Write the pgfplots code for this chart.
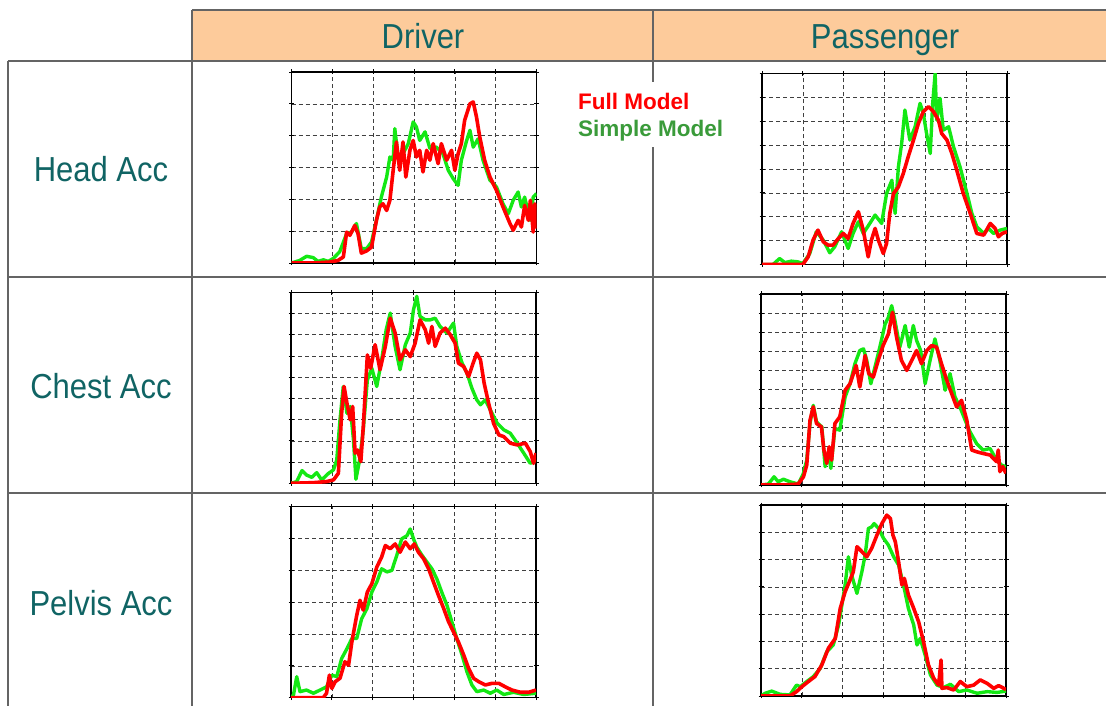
\documentclass[border=0pt]{standalone}
\usepackage{pgfplots}
\pgfplotsset{compat=1.18}
\usepackage{fontspec}
\setmainfont{Liberation Sans}
\definecolor{tealc}{RGB}{16,100,100}
\definecolor{headfill}{RGB}{253,203,155}
\definecolor{linec}{RGB}{100,100,100}
\definecolor{fullred}{RGB}{255,0,0}
\definecolor{simplegreen}{RGB}{20,232,20}
\definecolor{legendgreen}{RGB}{58,155,58}
\pgfplotsset{
  panel/.style={
    scale only axis, width=245pt, height=191pt,
    xmin=0, xmax=6, ymin=0,
    xtick={0,...,6},
    xticklabels={}, yticklabels={},
    grid=major,
    major grid style={black!75, line width=0.6pt, dash pattern=on 4pt off 3pt},
    axis line style={black, line width=1.3pt},
    tick align=center, major tick length=5pt,
    tick style={black, line width=0.8pt},
    clip=true,
  },
  sim/.style={simplegreen, line width=3.4pt, line join=round, no marks},
  full/.style={fullred, line width=3.6pt, line join=round, no marks},
}
\begin{document}
\begin{tikzpicture}[x=1pt,y=1pt]
\useasboundingbox (0,0) rectangle (1106,706);
% header
\fill[headfill] (192,696) rectangle (1106,645);
\draw[linec, line width=2pt] (192,696) -- (1106,696);
\draw[linec, line width=2pt] (8,645) -- (1106,645);
\draw[linec, line width=2pt] (8,429) -- (1106,429);
\draw[linec, line width=2pt] (8,213) -- (1106,213);
\draw[linec, line width=2pt] (8,645) -- (8,0);
\draw[linec, line width=2pt] (192,696) -- (192,0);
\draw[linec, line width=2pt] (653,696) -- (653,0);
\tikzset{lab/.style={text=tealc, font=\fontsize{31}{36}\selectfont, anchor=base, yscale=1.12, inner sep=0pt}}
\node[lab] at (423,657) {Driver};
\node[lab] at (885,657) {Passenger};
\node[lab] at (101,524) {Head Acc};
\node[lab] at (101,307) {Chest Acc};
\node[lab] at (101,90) {Pelvis Acc};

% P1 Driver Head
\begin{axis}[panel, at={(291.5pt,443pt)}, anchor=south west, ymax=6, ytick={0,...,6}]
\addplot[sim] coordinates {(0,0) (0.2,0.08) (0.37,0.21) (0.53,0.17) (0.65,0.05) (0.78,0.1) (0.9,0.05) (1.02,0.14) (1.18,0.35) (1.35,0.92) (1.47,0.97) (1.59,1.24) (1.71,0.45) (1.84,0.45) (1.96,0.66) (2.08,1.34) (2.2,2.07) (2.33,2.7) (2.41,3.33) (2.49,3.23) (2.53,4.22) (2.61,3.33) (2.73,3.43) (2.86,3.75) (2.98,4.43) (3.06,4.27) (3.14,3.85) (3.27,4.12) (3.39,3.6) (3.55,3.64) (3.71,3.43) (3.84,2.91) (3.96,2.65) (4.08,2.44) (4.16,3.23) (4.29,3.85) (4.37,4.17) (4.45,3.64) (4.57,3.9) (4.69,3.23) (4.86,2.6) (5.02,2.39) (5.18,1.86) (5.31,1.55) (5.43,1.97) (5.55,2.23) (5.63,1.76) (5.71,2.07) (5.84,1.34) (5.92,2.07) (6,2.18)};
\addplot[full] coordinates {(0,0) (0.53,0) (0.94,0.03) (1.14,0.08) (1.27,0.19) (1.35,0.97) (1.43,0.87) (1.55,1.18) (1.63,0.92) (1.71,0.31) (1.84,0.38) (1.96,0.5) (2.08,1.34) (2.16,1.76) (2.24,1.86) (2.33,1.65) (2.41,1.97) (2.49,2.91) (2.57,3.8) (2.65,2.91) (2.73,3.8) (2.8,2.7) (2.9,3.54) (2.98,3.85) (3.06,3.33) (3.14,3.54) (3.22,2.86) (3.31,3.54) (3.39,3.23) (3.47,3.75) (3.59,3.12) (3.67,3.75) (3.8,3.23) (3.92,3.54) (4,2.91) (4.08,3.43) (4.16,3.75) (4.24,4.48) (4.37,5.0) (4.45,5.06) (4.53,4.59) (4.61,3.96) (4.73,3.23) (4.86,2.7) (5.02,2.28) (5.18,1.76) (5.35,1.24) (5.43,1.03) (5.55,1.34) (5.63,1.13) (5.71,1.81) (5.8,1.34) (5.85,1.97) (5.92,0.97) (5.96,1.86) (6,1.08)};
\end{axis}

% P2 Passenger Head
\begin{axis}[panel, at={(762pt,441.5pt)}, anchor=south west, ymax=8, ytick={0,...,8}]
\addplot[sim] coordinates {(0,0) (0.27,0) (0.43,0.25) (0.56,0.08) (0.72,0.14) (0.88,0.11) (1.0,0.04) (1.17,0.46) (1.33,1.37) (1.5,1.02) (1.66,0.49) (1.78,0.74) (1.95,1.37) (2.11,0.67) (2.23,1.3) (2.36,1.79) (2.48,1.3) (2.64,1.72) (2.77,2.07) (2.93,1.72) (3.05,2.97) (3.18,3.53) (3.26,2.14) (3.34,4.09) (3.42,5.07) (3.5,6.47) (3.62,5.21) (3.75,5.77) (3.87,6.75) (3.95,6.33) (4.03,5.49) (4.12,4.65) (4.18,6.75) (4.24,8.0) (4.28,6.05) (4.36,6.96) (4.44,5.63) (4.57,5.77) (4.69,4.93) (4.85,4.09) (5.02,2.97) (5.14,2.14) (5.26,1.58) (5.43,1.3) (5.55,1.51) (5.67,1.3) (5.83,1.44) (6,1.51)};
\addplot[full] coordinates {(0,0) (1.0,0) (1.13,0.32) (1.25,1.02) (1.37,1.44) (1.5,0.95) (1.62,0.81) (1.74,0.81) (1.87,1.09) (1.99,1.3) (2.11,1.09) (2.23,1.72) (2.36,2.21) (2.48,1.44) (2.6,0.32) (2.68,1.02) (2.77,1.51) (2.85,1.02) (2.97,0.46) (3.05,0.88) (3.13,2.14) (3.22,2.97) (3.34,3.25) (3.46,3.81) (3.58,4.51) (3.71,5.21) (3.83,5.91) (3.95,6.4) (4.08,6.61) (4.2,6.4) (4.32,6.05) (4.4,5.49) (4.53,5.21) (4.65,4.65) (4.77,3.95) (4.93,2.97) (5.1,2.14) (5.26,1.3) (5.43,1.23) (5.59,1.72) (5.71,1.51) (5.79,1.16) (5.88,1.3) (6,1.37)};
\end{axis}

% P3 Driver Chest
\begin{axis}[panel, at={(291pt,222.7pt)}, anchor=south west, ymax=9, ytick={0,...,9}]
\addplot[sim] coordinates {(0,0) (0.14,0.08) (0.27,0.6) (0.38,0.39) (0.51,0.28) (0.63,0.5) (0.75,0.16) (0.92,0.47) (1.04,0.63) (1.12,1.1) (1.2,2.99) (1.28,4.56) (1.37,3.3) (1.45,3.62) (1.53,2.04) (1.59,0.19) (1.68,1.1) (1.77,2.52) (1.87,4.87) (1.98,5.42) (2.1,4.56) (2.22,5.82) (2.33,7.23) (2.43,8.02) (2.55,6.45) (2.67,5.35) (2.8,6.53) (2.92,7.08) (3.0,8.18) (3.08,8.81) (3.16,7.86) (3.29,7.7) (3.41,7.7) (3.53,7.78) (3.65,7.39) (3.82,7.08) (3.98,7.55) (4.06,6.45) (4.19,5.66) (4.31,5.19) (4.43,4.48) (4.55,3.93) (4.64,3.7) (4.76,3.93) (4.88,3.46) (5.05,2.83) (5.21,2.52) (5.37,2.36) (5.54,1.89) (5.7,1.42) (5.86,0.94) (6,1.1)};
\addplot[full] coordinates {(0,0) (0.55,0.03) (0.87,0.08) (1.04,0.16) (1.16,0.47) (1.24,3.3) (1.3,4.56) (1.37,3.77) (1.45,2.99) (1.51,3.62) (1.57,1.42) (1.63,1.57) (1.71,1.02) (1.77,2.67) (1.87,6.05) (1.95,5.42) (2.06,6.53) (2.18,5.35) (2.31,6.45) (2.43,7.78) (2.55,7.08) (2.67,5.82) (2.8,6.29) (2.92,5.97) (3.04,6.6) (3.16,7.7) (3.29,7.23) (3.37,6.6) (3.45,7.39) (3.53,6.45) (3.65,7.08) (3.78,7.31) (3.9,7.0) (4.02,6.6) (4.1,5.66) (4.23,5.5) (4.35,5.03) (4.46,5.66) (4.55,6.13) (4.64,5.82) (4.73,4.72) (4.84,3.77) (4.96,2.83) (5.09,2.28) (5.21,2.2) (5.37,1.89) (5.54,1.81) (5.74,1.89) (5.86,1.49) (5.94,0.94) (6,1.42)};
\end{axis}

% P4 Passenger Chest
\begin{axis}[panel, at={(761pt,221pt)}, anchor=south west, ymax=10, ytick={0,...,10}]
\addplot[sim] coordinates {(0,0) (0.18,0.05) (0.32,0.43) (0.42,0.17) (0.55,0.3) (0.71,0.17) (0.91,0.05) (1.04,0.61) (1.12,1.3) (1.2,3.22) (1.28,4.17) (1.36,3.3) (1.49,3.04) (1.57,0.96) (1.65,1.65) (1.71,0.87) (1.81,2.96) (1.93,2.87) (2.06,4.61) (2.18,5.3) (2.3,6.35) (2.42,7.04) (2.51,7.13) (2.59,6.52) (2.69,5.3) (2.79,6.17) (2.91,7.22) (3.04,8.43) (3.12,8.78) (3.2,9.39) (3.28,8.61) (3.4,7.22) (3.53,8.35) (3.63,7.22) (3.73,8.35) (3.81,7.57) (3.91,7.04) (4.02,5.3) (4.14,6.52) (4.26,7.65) (4.38,6.52) (4.51,4.96) (4.63,5.83) (4.75,4.61) (4.87,4.09) (5.0,3.39) (5.12,2.78) (5.28,2.17) (5.44,1.83) (5.61,1.91) (5.77,1.3) (5.89,1.04) (6,0.96)};
\addplot[full] coordinates {(0,0) (0.55,0) (0.91,0.05) (1.04,0.43) (1.12,1.04) (1.2,3.39) (1.28,4.09) (1.36,3.22) (1.48,3.04) (1.54,1.83) (1.61,1.13) (1.67,2.0) (1.73,1.3) (1.81,3.22) (1.93,3.57) (2.06,4.96) (2.18,5.3) (2.33,6.26) (2.42,5.13) (2.55,6.78) (2.64,5.83) (2.75,5.65) (2.87,6.52) (2.99,7.3) (3.12,7.91) (3.22,9.04) (3.32,7.74) (3.44,6.52) (3.57,6.0) (3.69,6.52) (3.81,7.04) (3.93,6.35) (4.06,7.04) (4.18,7.3) (4.3,7.22) (4.42,6.35) (4.55,5.48) (4.67,4.78) (4.79,4.09) (4.91,4.43) (5.04,3.39) (5.16,1.83) (5.28,1.74) (5.44,1.65) (5.61,1.57) (5.77,1.22) (5.81,1.83) (5.85,0.7) (5.92,0.96) (6,0.61)};
\end{axis}

% P5 Driver Pelvis
\begin{axis}[panel, at={(291pt,8.3pt)}, anchor=south west, ymax=6, ytick={0,...,6}]
\addplot[sim] coordinates {(0,0) (0.06,0.08) (0.14,0.66) (0.22,0.19) (0.38,0.24) (0.55,0.14) (0.71,0.24) (0.87,0.34) (1.0,0.71) (1.12,0.66) (1.24,1.23) (1.37,1.54) (1.49,1.86) (1.61,1.86) (1.73,2.48) (1.86,2.8) (1.98,3.32) (2.1,3.63) (2.22,4.05) (2.35,3.95) (2.47,4.0) (2.59,4.47) (2.71,4.99) (2.84,5.09) (2.92,5.3) (3.0,4.99) (3.08,4.73) (3.21,4.47) (3.33,4.26) (3.45,4.05) (3.57,3.74) (3.69,3.32) (3.82,2.9) (3.94,2.38) (4.06,1.86) (4.19,1.34) (4.31,0.81) (4.43,0.4) (4.55,0.19) (4.72,0.24) (4.88,0.14) (5.04,0.24) (5.21,0.1) (5.45,0.17) (5.7,0.1) (6,0.14)};
\addplot[full] coordinates {(0,0) (0.79,0) (0.87,0.14) (0.94,0.71) (1.0,0.29) (1.08,0.5) (1.2,0.61) (1.32,1.13) (1.41,1.02) (1.49,1.75) (1.61,2.59) (1.69,3.06) (1.77,2.75) (1.87,3.32) (1.98,3.58) (2.1,4.1) (2.22,4.42) (2.31,4.78) (2.43,4.68) (2.55,4.83) (2.67,4.57) (2.8,4.89) (2.92,4.68) (3.02,4.83) (3.12,4.57) (3.25,4.36) (3.37,4.05) (3.49,3.63) (3.61,3.22) (3.74,2.8) (3.86,2.38) (3.98,2.07) (4.1,1.75) (4.23,1.34) (4.35,0.92) (4.47,0.61) (4.6,0.5) (4.76,0.4) (4.92,0.45) (5.09,0.45) (5.25,0.34) (5.41,0.24) (5.62,0.17) (5.82,0.17) (6,0.24)};
\end{axis}

% P6 Passenger Pelvis
\begin{axis}[panel, at={(761pt,10pt)}, anchor=south west, ymax=7, ytick={0,...,7}]
\addplot[sim] coordinates {(0,0) (0.1,0.1) (0.26,0.18) (0.47,0.06) (0.71,0.04) (0.87,0.4) (0.96,0.34) (1.12,0.53) (1.28,0.71) (1.45,1.01) (1.61,1.62) (1.77,1.87) (1.9,2.6) (1.98,3.33) (2.06,4.07) (2.14,5.1) (2.22,4.43) (2.35,3.76) (2.47,4.55) (2.55,5.16) (2.63,6.14) (2.71,6.2) (2.77,6.32) (2.88,6.14) (3.0,5.78) (3.12,5.53) (3.25,5.1) (3.37,4.8) (3.49,4.07) (3.61,3.21) (3.74,2.6) (3.82,1.87) (3.9,2.11) (4.02,1.5) (4.15,0.77) (4.31,0.4) (4.47,0.31) (4.64,0.43) (4.84,0.16) (5.04,0.22) (5.29,0.1) (5.54,0.16) (5.78,0.13) (6,0.18)};
\addplot[full] coordinates {(0,0) (0.71,0) (0.87,0.16) (1.0,0.34) (1.16,0.53) (1.32,0.71) (1.49,1.14) (1.65,1.75) (1.82,2.11) (1.94,3.21) (2.06,3.82) (2.18,4.25) (2.26,4.55) (2.35,5.47) (2.47,5.29) (2.59,5.1) (2.71,5.41) (2.84,5.9) (2.96,6.32) (3.08,6.63) (3.17,6.5) (3.23,5.9) (3.29,5.65) (3.37,4.92) (3.45,4.07) (3.51,4.31) (3.61,3.7) (3.74,3.21) (3.86,2.72) (3.98,1.99) (4.1,1.14) (4.23,0.65) (4.35,0.4) (4.41,1.32) (4.43,0.28) (4.55,0.31) (4.72,0.22) (4.88,0.53) (5.04,0.34) (5.21,0.4) (5.37,0.59) (5.54,0.46) (5.7,0.28) (5.82,0.38) (6,0.24)};
\end{axis}

% legend
\fill[white] (572,624) rectangle (730,559);
\node[anchor=base west, inner sep=0pt, text=fullred, font=\bfseries\fontsize{22.5}{26}\selectfont] at (578,596) {Full Model};
\node[anchor=base west, inner sep=0pt, text=legendgreen, font=\bfseries\fontsize{22.5}{26}\selectfont] at (578,569) {Simple Model};
\end{tikzpicture}
\end{document}
